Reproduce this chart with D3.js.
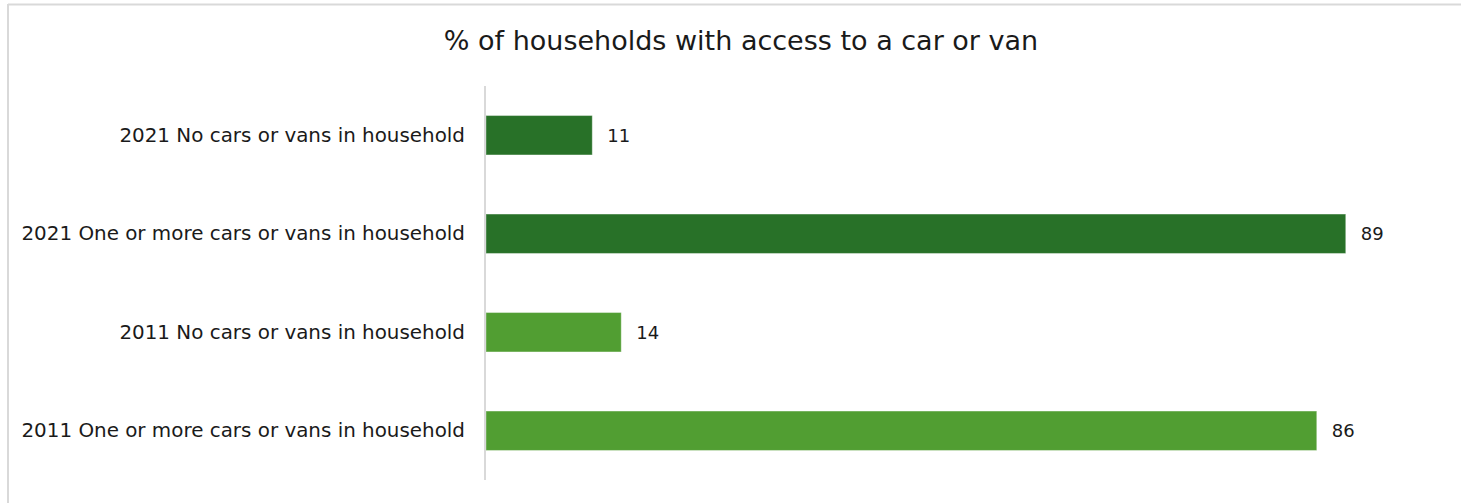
<!DOCTYPE html>
<html>
<head>
<meta charset="utf-8">
<script src="https://cdn.jsdelivr.net/npm/d3@7"></script>
<style>
  html, body { margin: 0; padding: 0; background: #ffffff; }
  svg { display: block; }
  text { font-family: "DejaVu Sans", "Noto Sans", sans-serif; fill: #1a1a1a; }
</style>
</head>
<body>
<svg id="chart" width="1461" height="503"></svg>
<script>
// Chart data: share of households (%) by car/van access
const categories = [
  "2021 No cars or vans in household",
  "2021 One or more cars or vans in household",
  "2011 No cars or vans in household",
  "2011 One or more cars or vans in household"
];
const values = [11, 89, 14, 86];
const years = ["2021", "2021", "2011", "2011"];
const title = "% of households with access to a car or van";

const W = 1461, H = 503;
const FONT = '"DejaVu Sans", "Noto Sans", sans-serif';
const svg = d3.select("#chart");

// Outer frame (left and top edges visible)
const frame = svg.append("g").attr("stroke", "#d9d9d9").attr("stroke-width", 2);
frame.append("line").attr("x1", 8).attr("x2", W).attr("y1", 4.5).attr("y2", 4.5);
frame.append("line").attr("x1", 8).attr("x2", 8).attr("y1", 4).attr("y2", H);

const plot = { left: 486, top: 86, bottom: 480 };

const x = d3.scaleLinear().domain([0, 100]).range([plot.left, plot.left + 966]);
const y = d3.scaleBand().domain(categories).range([plot.top, plot.bottom])
  .paddingInner(0.6).paddingOuter(0.3);
const colour = d3.scaleOrdinal().domain(["2021", "2011"]).range(["#287128", "#519e32"]);

// Title
svg.append("text")
  .attr("x", 741).attr("y", 50)
  .attr("text-anchor", "middle")
  .style("font-size", "27px")
  .text(title);

// Bars
svg.append("g").selectAll("rect")
  .data(categories)
  .join("rect")
  .attr("x", x(0))
  .attr("y", d => y(d))
  .attr("width", (d, i) => x(values[i]) - x(0))
  .attr("height", y.bandwidth())
  .attr("fill", (d, i) => colour(years[i]))
  .attr("stroke", "#ffffff")
  .attr("stroke-opacity", 0.35)
  .attr("stroke-width", 1);

// Category axis
const yAxis = svg.append("g")
  .attr("transform", `translate(${plot.left - 1},0)`)
  .call(d3.axisLeft(y).tickSize(0).tickPadding(20));
yAxis.select(".domain").attr("stroke", "#d9d9d9").attr("stroke-width", 2)
  .attr("d", `M0,${plot.top}V${plot.bottom}`);
yAxis.selectAll(".tick text")
  .style("font-family", FONT)
  .style("font-size", "19.9px")
  .attr("fill", "#1a1a1a");

// Value labels
svg.append("g").selectAll("text")
  .data(categories)
  .join("text")
  .attr("x", (d, i) => x(values[i]) + 15)
  .attr("y", d => y(d) + y.bandwidth() / 2)
  .attr("dy", "0.35em")
  .style("font-size", "18px")
  .text((d, i) => values[i]);
</script>
</body>
</html>
